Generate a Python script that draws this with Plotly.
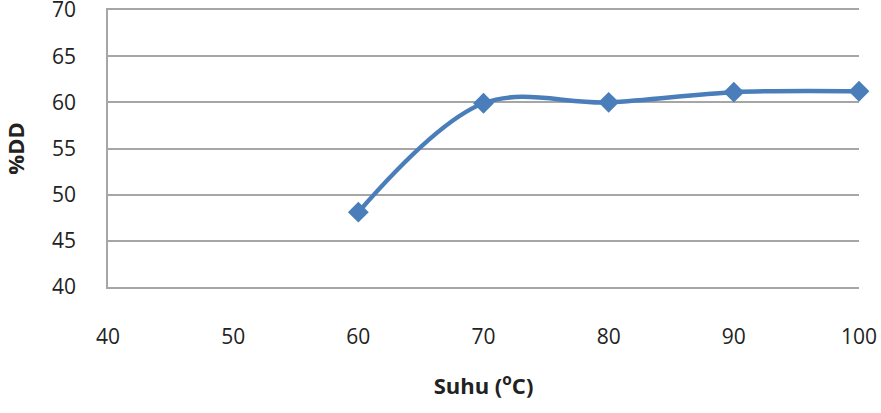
import plotly.graph_objects as go

suhu = [60, 70, 80, 90, 100]
dd = [48.1, 59.9, 60.0, 61.1, 61.2]
x_ticks = [40, 50, 60, 70, 80, 90, 100]
y_ticks = [40, 45, 50, 55, 60, 65, 70]

fig = go.Figure()
fig.add_trace(go.Scatter(
    x=suhu, y=dd, mode="lines+markers",
    line=dict(color="#4A7EBB", width=4.5, shape="spline", smoothing=1.0),
    marker=dict(symbol="diamond", size=16, color="#4A7EBB"),
    showlegend=False, cliponaxis=False,
))

font = "Open Sans"
tickfont = dict(family=font, size=21, color="#222222")
fig.update_layout(
    width=881, height=413,
    margin=dict(l=108, r=22, t=10, b=126),
    paper_bgcolor="white", plot_bgcolor="white",
    font=dict(family=font, size=21, color="#222222"),
    xaxis=dict(
        range=[40, 100], tickvals=x_ticks, showgrid=False, zeroline=False,
        showline=True, mirror=True, linecolor="#A6A6A6", linewidth=1.5,
        ticks="outside", ticklen=30, tickcolor="rgba(0,0,0,0)",
        tickfont=tickfont, ticklabeloverflow="allow", automargin=False,
        title=dict(text="<b>Suhu (<sup>o</sup>C)</b>", font=dict(family=font, size=22, color="#222222"), standoff=30),
    ),
    yaxis=dict(
        range=[40, 70], tickvals=y_ticks, showgrid=True, gridcolor="#A6A6A6",
        gridwidth=1.5, zeroline=False, showline=True, linecolor="#A6A6A6",
        linewidth=1.5, ticks="outside", ticklen=26, tickcolor="rgba(0,0,0,0)",
        tickfont=tickfont, ticklabeloverflow="allow", automargin=False,
        title=dict(text="<b>%DD</b>", font=dict(family=font, size=22, color="#222222"), standoff=25),
    ),
)
fig.write_html("out.html")
